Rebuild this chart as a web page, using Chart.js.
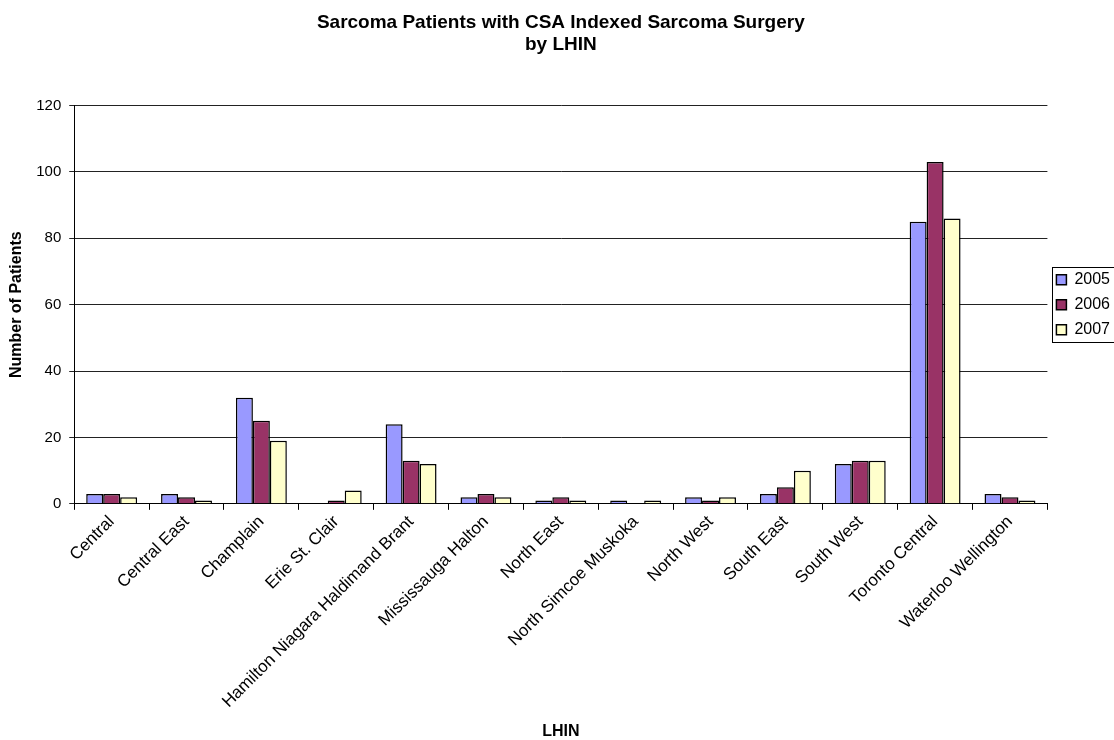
<!DOCTYPE html>
<html>
<head>
<meta charset="utf-8">
<script src="https://cdn.jsdelivr.net/npm/chart.js@4.4.1/dist/chart.umd.min.js"></script>
<style>
  html, body { margin: 0; padding: 0; background: #fff; overflow: hidden; }
  #wrap { width: 1114px; height: 740px; overflow: hidden; position: relative; }
  #box { width: 1120px; height: 740px; }
</style>
</head>
<body>
<div id="wrap"><div id="box"><canvas id="c"></canvas></div></div>
<script>
const categories = ["Central", "Central East", "Champlain", "Erie St. Clair", "Hamilton Niagara Haldimand Brant", "Mississauga Halton", "North East", "North Simcoe Muskoka", "North West", "South East", "South West", "Toronto Central", "Waterloo Wellington"];
const seriesNames = ["2005", "2006", "2007"];
const values2005 = [3, 3, 32, 0, 24, 2, 1, 1, 2, 3, 12, 85, 3];
const values2006 = [3, 2, 25, 1, 13, 3, 2, 0, 1, 5, 13, 103, 2];
const values2007 = [2, 1, 19, 4, 12, 2, 1, 1, 2, 10, 13, 86, 1];
const yMin = 0, yMax = 120, yStep = 20;
const titleLines = ["Sarcoma Patients with CSA Indexed Sarcoma Surgery", "by LHIN"];
const xTitle = "LHIN";
const yTitle = "Number of Patients";

const colors = ["#9999FF", "#993366", "#FFFFCC"];
const FONT = "'Liberation Sans', Arial, sans-serif";
Chart.defaults.font.family = FONT;
Chart.defaults.color = "#000";

const legendBorder = {
  id: "legendBorder",
  afterDraw(chart) {
    const lg = chart.legend;
    if (!lg || !lg.legendHitBoxes || !lg.legendHitBoxes.length) return;
    const hb = lg.legendHitBoxes;
    const top = Math.min(...hb.map(b => b.top)) - 5;
    const bottom = Math.max(...hb.map(b => b.top + b.height)) + 4;
    const left = Math.min(...hb.map(b => b.left)) - 4;
    const ctx = chart.ctx;
    ctx.save();
    ctx.strokeStyle = "#000";
    ctx.lineWidth = 1;
    ctx.strokeRect(Math.round(left) + 0.5, Math.round(top) + 0.5, lg.right - left + 10, Math.round(bottom - top));
    ctx.restore();
  }
};

const datasets = [values2005, values2006, values2007].map((v, i) => ({
  label: seriesNames[i],
  data: v,
  backgroundColor: colors[i],
  borderColor: "#000",
  borderWidth: 1.5,
  categoryPercentage: 0.68,
  barPercentage: 1.0
}));

new Chart(document.getElementById("c"), {
  type: "bar",
  data: { labels: categories, datasets },
  plugins: [legendBorder],
  options: {
    responsive: true,
    maintainAspectRatio: false,
    animation: false,
    layout: { padding: { left: 3, right: 0, top: 0, bottom: 0 } },
    plugins: {
      title: {
        display: true,
        text: titleLines,
        fullSize: false,
        font: { size: 19, weight: "bold", lineHeight: 1.2 },
        padding: { top: 11, bottom: 49 },
        color: "#000"
      },
      legend: {
        position: "right",
        fullSize: false,
        align: "center",
        labels: {
          boxWidth: 10,
          boxHeight: 10,
          padding: 9,
          font: { size: 16 },
          color: "#000"
        }
      },
      tooltip: { enabled: false }
    },
    scales: {
      x: {
        offset: true,
        grid: { display: true, drawOnChartArea: false, drawTicks: true, tickLength: 6, color: "#000", offset: true },
        border: { display: true, color: "#000", width: 1 },
        ticks: { minRotation: 45, maxRotation: 45, autoSkip: false, font: { size: 17 }, padding: 2, color: "#000" },
        title: { display: true, text: xTitle, font: { size: 16, weight: "bold", lineHeight: 1.0 }, padding: { top: 10, bottom: 0 }, color: "#000" }
      },
      y: {
        min: yMin,
        max: yMax,
        grid: { color: "#222", lineWidth: 1, tickLength: 5, drawTicks: true },
        border: { display: true, color: "#000", width: 1 },
        ticks: { stepSize: yStep, font: { size: 15 }, padding: 8, color: "#000" },
        title: { display: true, text: yTitle, font: { size: 16, weight: "bold" }, padding: { top: 4, bottom: 2 }, color: "#000" }
      }
    }
  }
});
</script>
</body>
</html>
